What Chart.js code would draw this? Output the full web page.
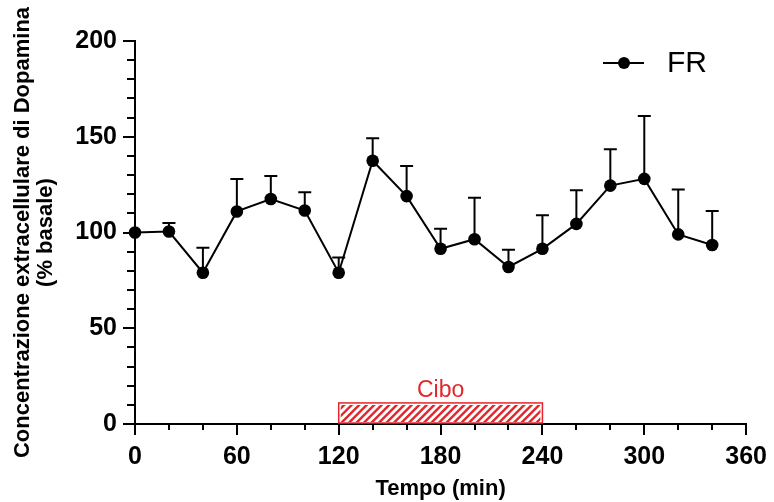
<!DOCTYPE html>
<html>
<head>
<meta charset="utf-8">
<script src="https://cdn.jsdelivr.net/npm/chart.js@4.4.1/dist/chart.umd.min.js"></script>
<style>
  html, body { margin: 0; padding: 0; background: #fff; }
  #wrap { width: 774px; height: 502px; }
</style>
</head>
<body>
<div id="wrap"><canvas id="dopamina"></canvas></div>
<script>
// tempi di prelievo (min) e dopamina extracellulare (% basale), media + SEM
var tempi   = [0, 20, 40, 60, 80, 100, 120, 140, 160, 180, 200, 220, 240, 260, 280, 300, 320, 340];
var medieFR = [100, 100.5, 79, 111, 117.5, 111.5, 79, 137.5, 119, 91.5, 96.5, 82, 91.5, 104.5, 124.5, 128, 99, 93.5];
var semFR   = [0, 4.5, 13, 17, 12, 9.5, 8, 11.7, 15.7, 10.5, 21.7, 9, 17.5, 17.5, 19, 32.8, 23.5, 17.7];

// periodo di accesso al cibo (min)
var periodoCibo = [120, 240];

var etichetteX = [0, 60, 120, 180, 240, 300, 360];
var etichetteY = [0, 50, 100, 150, 200];

var ROSSO = '#e3262b';
var FONT = '"Liberation Sans", Arial, sans-serif';

var extraPlot = {
  id: 'extraPlot',
  beforeDatasetsDraw: function(chart) {
    var ctx = chart.ctx, sx = chart.scales.x, sy = chart.scales.y;

    // barra tratteggiata del cibo
    var x0 = sx.getPixelForValue(periodoCibo[0]);
    var x1 = sx.getPixelForValue(periodoCibo[1]);
    var yb = sy.getPixelForValue(0) - 1;
    var yt = sy.getPixelForValue(11);
    var h = yb - yt;
    ctx.save();
    ctx.beginPath();
    ctx.rect(x0 + 2, yt + 2, x1 - x0 - 4, h - 3);
    ctx.clip();
    ctx.strokeStyle = ROSSO;
    ctx.lineWidth = 2.4;
    for (var k = -h; k < x1 - x0 + h; k += 7.5) {
      ctx.beginPath();
      ctx.moveTo(x0 + k, yb);
      ctx.lineTo(x0 + k + h, yt);
      ctx.stroke();
    }
    ctx.restore();
    ctx.save();
    ctx.strokeStyle = ROSSO;
    ctx.lineWidth = 1.5;
    ctx.strokeRect(x0, yt, x1 - x0, h);
    ctx.fillStyle = ROSSO;
    ctx.font = '23px ' + FONT;
    ctx.textAlign = 'center';
    ctx.textBaseline = 'bottom';
    ctx.fillText('Cibo', (x0 + x1) / 2, yt - 1);
    ctx.restore();

    // barre d'errore (solo verso l'alto)
    ctx.save();
    ctx.strokeStyle = '#000';
    ctx.lineWidth = 2;
    for (var i = 0; i < tempi.length; i++) {
      if (!semFR[i]) continue;
      var px = sx.getPixelForValue(tempi[i]);
      var pm = sy.getPixelForValue(medieFR[i]);
      var pt = sy.getPixelForValue(medieFR[i] + semFR[i]);
      ctx.beginPath();
      ctx.moveTo(px, pm);
      ctx.lineTo(px, pt);
      ctx.moveTo(px - 6.5, pt);
      ctx.lineTo(px + 6.5, pt);
      ctx.stroke();
    }
    ctx.restore();
  },
  afterDraw: function(chart) {
    var ctx = chart.ctx, sx = chart.scales.x, sy = chart.scales.y;
    var area = chart.chartArea;
    ctx.save();
    ctx.strokeStyle = '#000';
    ctx.lineWidth = 2;
    // tacche maggiori e minori
    sx.ticks.forEach(function(t) {
      var px = Math.round(sx.getPixelForValue(t.value));
      var len = etichetteX.indexOf(t.value) >= 0 ? 11 : 6;
      ctx.beginPath();
      ctx.moveTo(px, area.bottom);
      ctx.lineTo(px, area.bottom + len);
      ctx.stroke();
    });
    sy.ticks.forEach(function(t) {
      var py = Math.round(sy.getPixelForValue(t.value));
      var len = etichetteY.indexOf(t.value) >= 0 ? 12 : 8;
      ctx.beginPath();
      ctx.moveTo(area.left, py);
      ctx.lineTo(area.left - len, py);
      ctx.stroke();
    });

    // legenda
    var ds = chart.data.datasets[0];
    ctx.beginPath();
    ctx.moveTo(603, 63);
    ctx.lineTo(644, 63);
    ctx.stroke();
    ctx.beginPath();
    ctx.arc(624, 63, 6, 0, Math.PI * 2);
    ctx.fillStyle = '#000';
    ctx.fill();
    ctx.font = '30px ' + FONT;
    ctx.textBaseline = 'middle';
    ctx.textAlign = 'left';
    ctx.fillText(ds.label, 667, 64);
    ctx.restore();
  }
};

var punti = tempi.map(function(t, i) { return { x: t, y: medieFR[i] }; });

new Chart(document.getElementById('dopamina'), {
  type: 'line',
  data: {
    datasets: [{
      label: 'FR',
      data: punti,
      borderColor: '#000',
      borderWidth: 2,
      backgroundColor: '#000',
      pointRadius: 6.3,
      pointBorderWidth: 0,
      pointBackgroundColor: '#000',
      tension: 0,
      clip: false
    }]
  },
  options: {
    responsive: true,
    maintainAspectRatio: false,
    animation: false,
    layout: { padding: { left: 0, top: 41, right: 24, bottom: 1 } },
    plugins: {
      legend: { display: false },
      tooltip: { enabled: false }
    },
    scales: {
      x: {
        type: 'linear',
        min: 0,
        max: 360,
        afterFit: function(s) { s.height = 77; },
        border: { display: true, color: '#000', width: 2 },
        grid: { display: true, drawOnChartArea: false, drawTicks: true, tickLength: 11, color: 'rgba(0,0,0,0)' },
        ticks: {
          stepSize: 20,
          autoSkip: false,
          maxRotation: 0,
          padding: 7,
          color: '#000',
          font: { family: FONT, size: 25, weight: 'bold' },
          callback: function(v) { return etichetteX.indexOf(v) >= 0 ? String(v) : ''; }
        },
        title: {
          display: true,
          text: 'Tempo (min)',
          color: '#000',
          font: { family: FONT, size: 22, weight: 'bold', lineHeight: 1.1 },
          padding: { top: 0, bottom: 0 }
        }
      },
      y: {
        min: 0,
        max: 200,
        afterFit: function(s) { s.width = 135; },
        border: { display: true, color: '#000', width: 2 },
        grid: { display: true, drawOnChartArea: false, drawTicks: true, tickLength: 12, color: 'rgba(0,0,0,0)' },
        ticks: {
          stepSize: 10,
          autoSkip: false,
          padding: 6,
          color: '#000',
          font: { family: FONT, size: 25, weight: 'bold' },
          callback: function(v) { return etichetteY.indexOf(v) >= 0 ? String(v) : ''; }
        },
        title: {
          display: true,
          text: ['Concentrazione extracellulare di Dopamina', '(% basale)'],
          color: '#000',
          font: { family: FONT, size: 22, weight: 'bold', lineHeight: 1.05 },
          padding: { top: 11, bottom: 0 }
        }
      }
    }
  },
  plugins: [extraPlot]
});
</script>
</body>
</html>
